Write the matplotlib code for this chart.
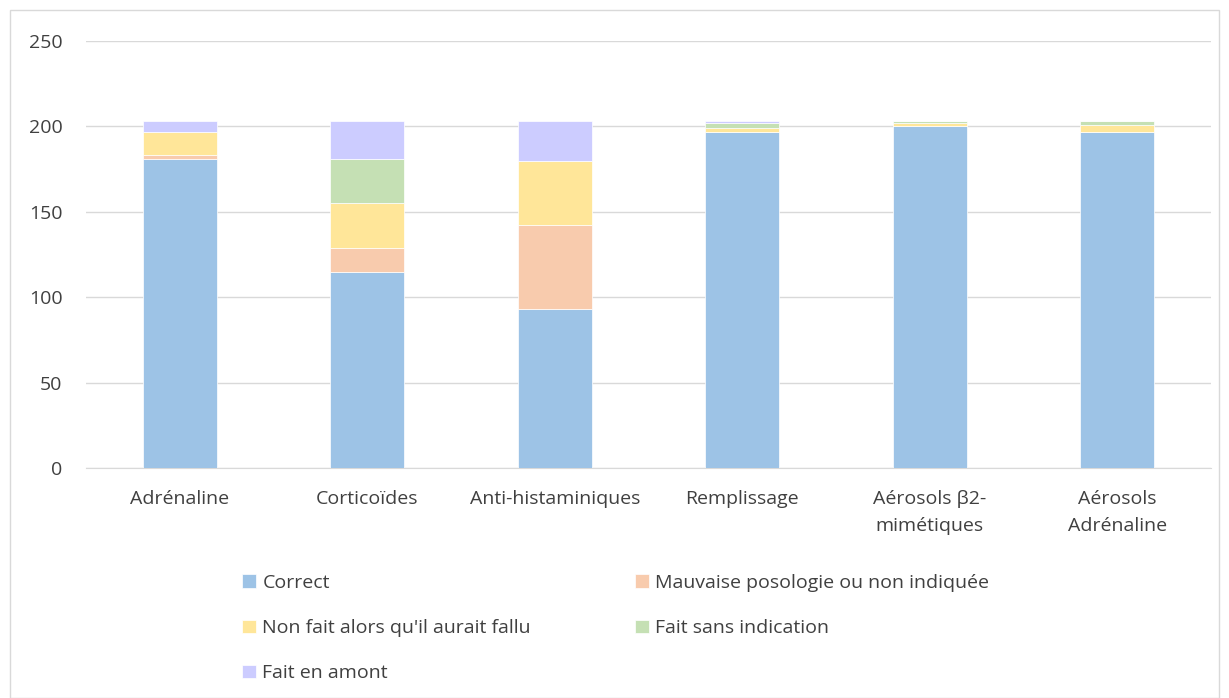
import matplotlib.pyplot as plt
from matplotlib.patches import Rectangle

# Values
categories = ['Adrénaline', 'Corticoïdes', 'Anti-histaminiques', 'Remplissage',
              'Aérosols β2-\nmimétiques', 'Aérosols\nAdrénaline']
correct = [181, 115, 93, 197, 200, 197]
mauvaise = [2, 14, 49, 0, 0, 0]
non_fait = [14, 26, 38, 2, 2, 4]
sans_indication = [0, 26, 0, 3, 1, 2]
en_amont = [6, 22, 23, 1, 0, 0]

series = [
    ('Correct', correct, '#9DC3E6'),
    ('Mauvaise posologie ou non indiquée', mauvaise, '#F8CBAD'),
    ("Non fait alors qu'il aurait fallu", non_fait, '#FFE699'),
    ('Fait sans indication', sans_indication, '#C5E0B4'),
    ('Fait en amont', en_amont, '#CCCCFF'),
]

plt.rcParams['font.family'] = ['Open Sans', 'DejaVu Sans']
fs = 14

fig = plt.figure(figsize=(12.29, 6.98), dpi=100)
ax = fig.add_axes([86 / 1229, 1 - 468 / 698, (1211 - 86) / 1229, (468 - 41) / 698])

x = list(range(len(categories)))
bottom = [0] * len(categories)
handles = []
for name, vals, color in series:
    b = ax.bar(x, vals, bottom=bottom, width=0.395, color=color, label=name,
               edgecolor='white', linewidth=0.5, zorder=3)
    handles.append(b)
    bottom = [bo + v for bo, v in zip(bottom, vals)]

ax.set_xlim(-0.5, len(categories) - 0.5)
ax.set_ylim(0, 250)
ax.set_yticks(range(0, 251, 50))
ax.set_xticks(x)
ax.set_xticklabels(categories, fontsize=fs, color='#404040', linespacing=1.65)
ax.tick_params(axis='y', labelsize=fs, colors='#404040', length=0, pad=17)
ax.tick_params(axis='x', length=0, pad=16)
ax.grid(axis='y', color='#D9D9D9', linewidth=1, zorder=0)
for s in ['top', 'right', 'left']:
    ax.spines[s].set_visible(False)
ax.spines['bottom'].set_color('#D9D9D9')

# legend, row-wise order as in the reference
order = [0, 2, 4, 1, 3]
leg = fig.legend([handles[i] for i in order], [series[i][0] for i in order],
                 ncol=2, loc='upper left', bbox_to_anchor=(242 / 1229, 1 - 574 / 698),
                 frameon=False, fontsize=fs, handlelength=0.7, handleheight=0.7,
                 handletextpad=0.35, labelspacing=1.4, columnspacing=5.35,
                 borderaxespad=0, borderpad=0)
for t in leg.get_texts():
    t.set_color('#404040')

# light outer frame
fig.patches.append(Rectangle((10 / 1229, 0), 1209 / 1229, 1 - 10 / 698,
                             transform=fig.transFigure, fill=False,
                             edgecolor='#D9D9D9', linewidth=1))

fig.savefig('out.png', dpi=100)
